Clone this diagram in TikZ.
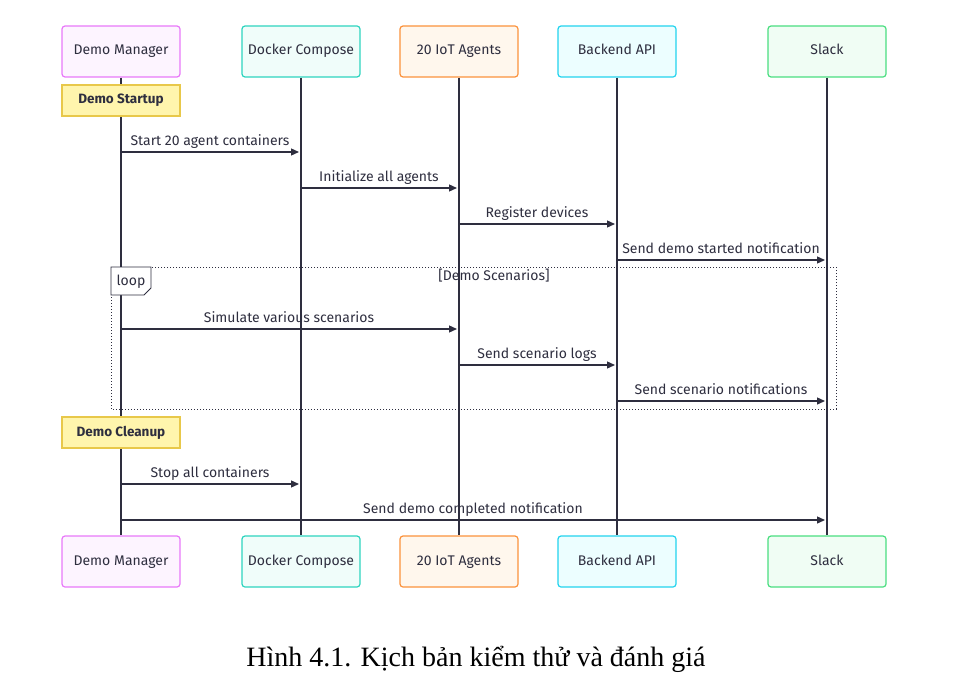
\documentclass[tikz,border=0pt]{standalone}
\usepackage{fontspec}
\setmainfont{Liberation Serif}
\newfontfamily\plex{Fira Sans}
\usetikzlibrary{arrows.meta}
\definecolor{ink}{HTML}{2E2E3F}
\definecolor{pinkB}{HTML}{E879F9}\definecolor{pinkF}{HTML}{FDF4FF}
\definecolor{tealB}{HTML}{2DD4BF}\definecolor{tealF}{HTML}{F0FDFA}
\definecolor{orB}{HTML}{FB923C}\definecolor{orF}{HTML}{FFF7ED}
\definecolor{cyB}{HTML}{22D3EE}\definecolor{cyF}{HTML}{ECFEFF}
\definecolor{grB}{HTML}{4ADE80}\definecolor{grF}{HTML}{F0FDF4}
\definecolor{noteB}{HTML}{E8C84A}\definecolor{noteF}{HTML}{FFF5AD}
\begin{document}
\begin{tikzpicture}[x=1pt,y=-1pt,
    every node/.style={
        font=\plex\fontsize{14}{16}\selectfont, text=ink,
        text height=9pt, text depth=2pt
    },
    actor/.style={
        minimum width=118pt, minimum height=51pt,
        rounded corners=3pt, line width=1.2pt,
        draw
    },
    note/.style={
        minimum width=118pt, minimum height=31pt,
        draw=noteB, fill=noteF, line width=1.2pt,
        font=\plex\bfseries\fontsize{13.5}{16}\selectfont
    },
    msg/.style={
        draw=ink, line width=1.3pt, -{Triangle[length=8pt,width=7pt]}
    },
    lbl/.style={
        above=1pt
    }
]
\useasboundingbox (0,0) rectangle (976,698);

% actors
\foreach \n/\x/\t/\b/\f in {dm/121/Demo Manager/pinkB/pinkF,
                            dc/301/Docker Compose/tealB/tealF,
                            ia/459/20 IoT Agents/orB/orF,
                            ba/617/Backend API/cyB/cyF,
                            sl/827/Slack/grB/grF}{
    \node (\n top) [actor, draw=\b, fill=\f] at (\x,51.5) {\t};
    \node (\n bot) [actor, draw=\b, fill=\f] at (\x,561.5) {\t};
    \draw[ink, line width=1.3pt] (\n top.south) -- (\n bot.north);
}

% notes
\node (startup) [note] at (121,100.5) {Demo Startup};
\node (cleanup) [note] at (121,432.5) {Demo Cleanup};

% loop frame
\draw[ink, dotted, line width=1pt] (111,267) rectangle (836,409);
\draw[ink, fill=white, line width=0.8pt] (111,267) -- (151,267) -- (151,288)
    -- (144,295) -- (111,295) -- cycle;
\node (looptxt) at (131,282) {loop};
\node (loopcond) at (494,277) {[Demo Scenarios]};

% messages
\coordinate (m1a) at (121,152); \coordinate (m1b) at (299,152);
\coordinate (m2a) at (301,188); \coordinate (m2b) at (457,188);
\coordinate (m3a) at (459,224); \coordinate (m3b) at (615,224);
\coordinate (m4a) at (617,260); \coordinate (m4b) at (825,260);
\coordinate (m5a) at (121,329); \coordinate (m5b) at (457,329);
\coordinate (m6a) at (459,365); \coordinate (m6b) at (615,365);
\coordinate (m7a) at (617,401); \coordinate (m7b) at (825,401);
\coordinate (m8a) at (121,484); \coordinate (m8b) at (299,484);
\coordinate (m9a) at (121,520); \coordinate (m9b) at (825,520);
\draw[msg] (m1a) -- node[lbl] {Start 20 agent containers} (m1b);
\draw[msg] (m2a) -- node[lbl] {Initialize all agents} (m2b);
\draw[msg] (m3a) -- node[lbl] {Register devices} (m3b);
\draw[msg] (m4a) -- node[lbl] {Send demo started notification} (m4b);
\draw[msg] (m5a) -- node[lbl] {Simulate various scenarios} (m5b);
\draw[msg] (m6a) -- node[lbl] {Send scenario logs} (m6b);
\draw[msg] (m7a) -- node[lbl] {Send scenario notifications} (m7b);
\draw[msg] (m8a) -- node[lbl] {Stop all containers} (m8b);
\draw[msg] (m9a) -- node[lbl] {Send demo completed notification} (m9b);

% caption
\node (caption) [font=\rmfamily\fontsize{28}{32}\selectfont, text=black,
    text height=19pt, text depth=6pt] at (476,660)
    {Hình 4.1. Kịch bản kiểm thử và đánh giá};
\end{tikzpicture}
\end{document}
